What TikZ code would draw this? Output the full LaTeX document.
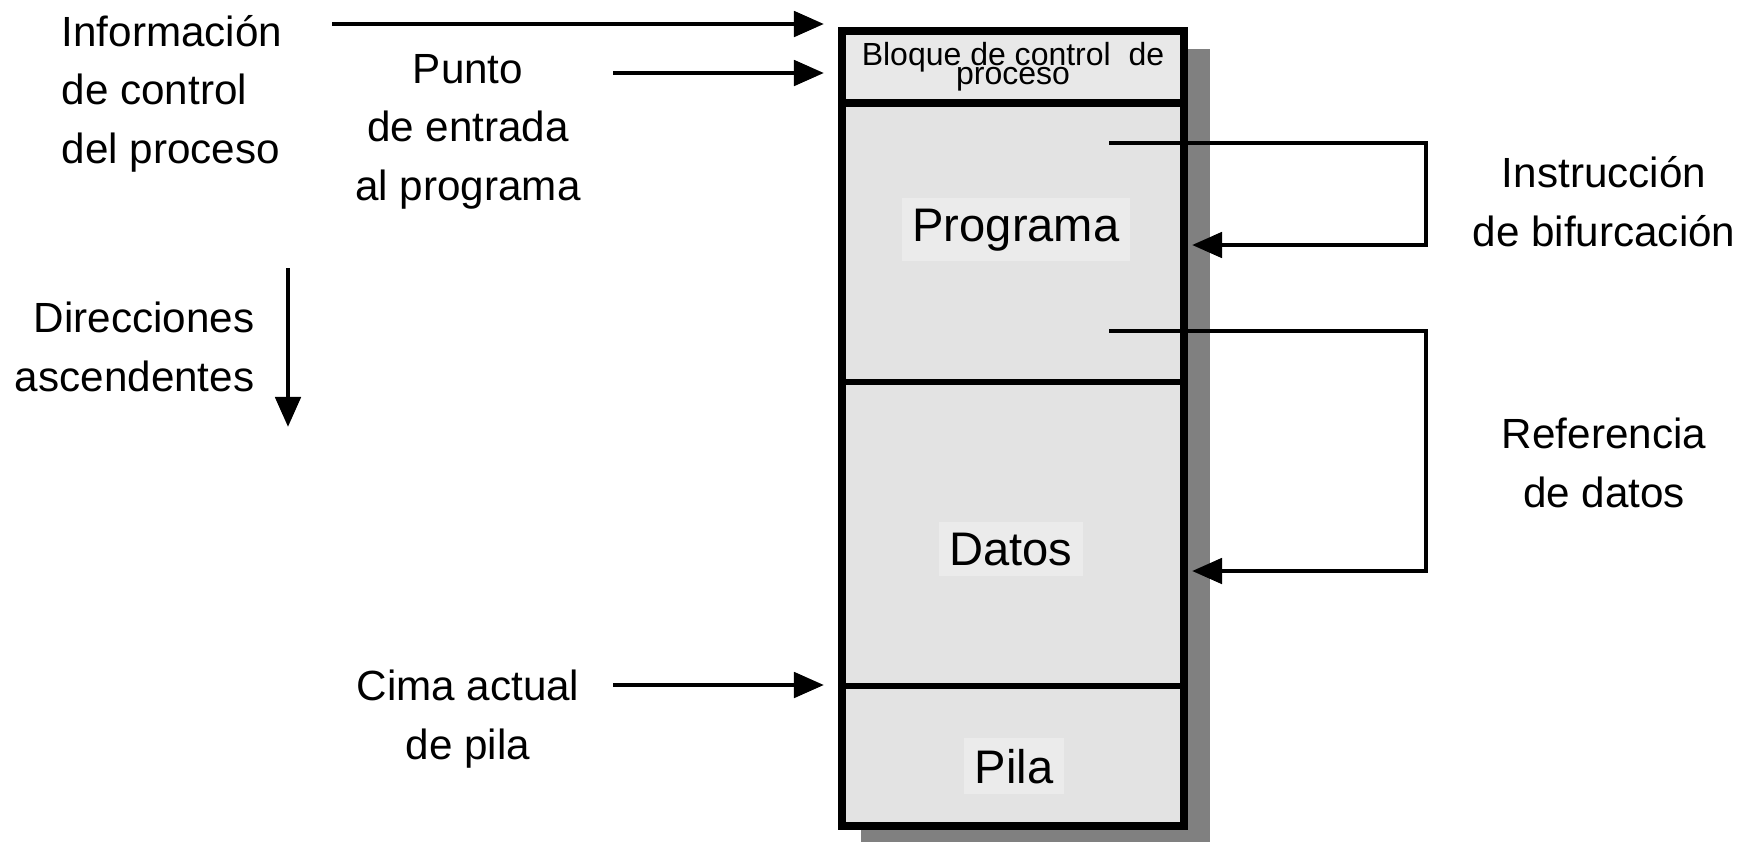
\documentclass[tikz,border=0pt]{standalone}
\usepackage{fontspec}
\setmainfont{Liberation Sans}
\usetikzlibrary{arrows.meta}
\newcommand\pcbfont{\fontsize{9.1}{5.2}\selectfont\lineskiplimit=-20pt\relax}
\tikzset{
  lbl/.style={font=\fontsize{12}{16.5}\selectfont, align=center, inner sep=0pt},
  seg/.style={font=\fontsize{13.4}{16}\selectfont, inner sep=3pt, fill=black!8},
  flecha/.style={line width=1.4pt, -{Triangle[length=0.3cm,width=0.25cm]}},
}
\begin{document}
\begin{tikzpicture}[x=0.01cm,y=-0.01cm]
\useasboundingbox (0,0) rectangle (1751,842);
% sombra y bloques
\fill[black!50] (861,49) rectangle (1210,842);
\filldraw[fill=black!11, line width=2pt] (842,31) rectangle (1184,826);
\fill[black!9] (846,35) rectangle (1180,103);
\draw[line width=2pt] (846,103) -- (1180,103);
\draw[line width=1.6pt] (846,382) -- (1180,382);
\draw[line width=1.6pt] (846,686) -- (1180,686);
\node[inner sep=0pt, align=center, font=\pcbfont, anchor=base] (pcb) at (1013,84) {Bloque de control\ \ de\\proceso};
\node[seg, anchor=base] (prog) at (1016,241) {Programa};
\node[seg, anchor=base] (datos) at (1011,565) {Datos};
\node[seg, anchor=base] (pila) at (1014,783) {Pila};
% textos
\node[lbl, align=left, anchor=base west] (info) at (61,163) {Información\\de control\\del proceso};
\node[lbl, anchor=base] (punto) at (468,200) {Punto\\de entrada\\al programa};
\node[lbl, align=right, anchor=base east] (dir) at (255,391) {Direcciones\\ascendentes};
\node[lbl, anchor=base] (cima) at (468,759) {Cima actual\\de pila};
\node[lbl, anchor=base] (instr) at (1604,246) {Instrucción\\de bifurcación};
\node[lbl, anchor=base] (ref) at (1604,507) {Referencia\\de datos};
% flechas
\coordinate (infoS) at (332,24); \coordinate (infoT) at (824,24);
\coordinate (puntoS) at (613,73); \coordinate (puntoT) at (824,73);
\coordinate (cimaS) at (613,685); \coordinate (cimaT) at (824,685);
\coordinate (dirS) at (288,268); \coordinate (dirT) at (288,427);
\coordinate (bifS) at (1109,143); \coordinate (bifT) at (1192,245);
\coordinate (refS) at (1109,331); \coordinate (refT) at (1192,571);
\draw[flecha] (infoS) -- (infoT);
\draw[flecha] (puntoS) -- (puntoT);
\draw[flecha] (cimaS) -- (cimaT);
\draw[flecha] (dirS) -- (dirT);
\draw[flecha] (bifS) -- (1426,143) |- (bifT);
\draw[flecha] (refS) -- (1426,331) |- (refT);
\end{tikzpicture}
\end{document}
